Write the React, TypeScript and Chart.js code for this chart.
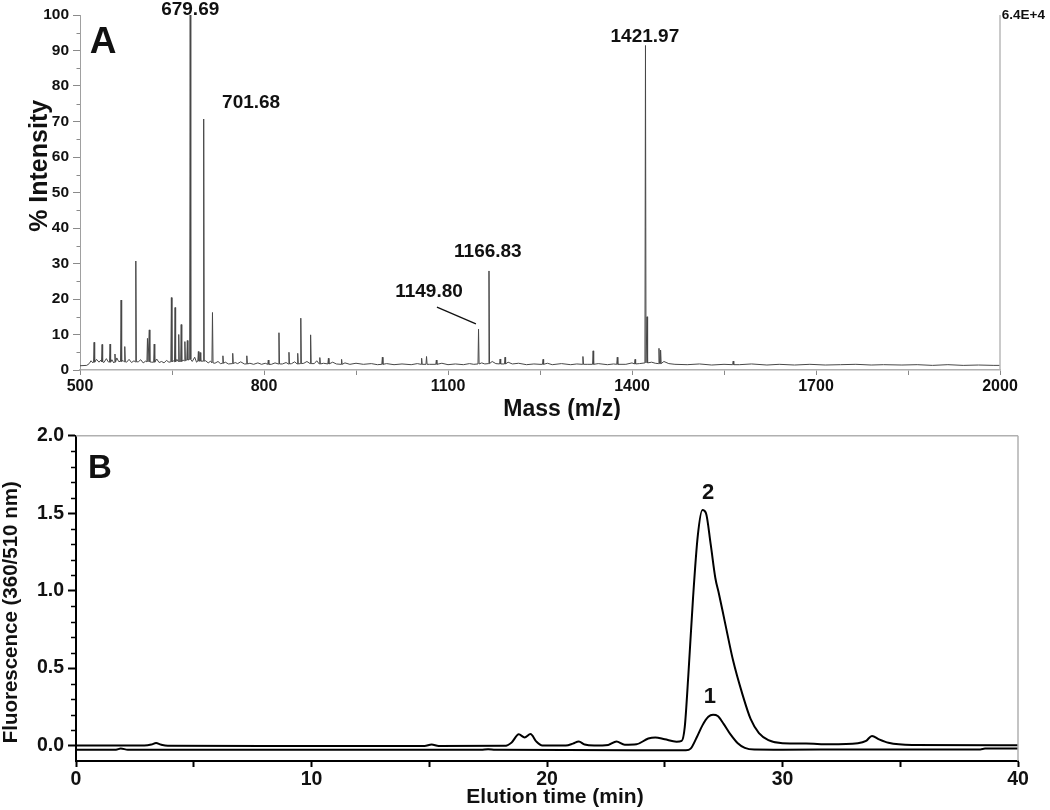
import React, { useEffect, useRef } from 'react';
import { Chart, registerables } from 'chart.js';

Chart.register(...registerables);

const FONT = '"Liberation Sans", Arial, Helvetica, sans-serif';

// ---------------- Panel A : mass spectrum ----------------
const massTicks = [500, 650, 800, 950, 1100, 1250, 1400, 1550, 1700, 1850, 2000];
const massLabeledTicks = [500, 800, 1100, 1400, 1700, 2000];
const intensityTicks = [0, 10, 20, 30, 40, 50, 60, 70, 80, 90, 100];
const intensityMinorTicks = [5, 15, 25, 35, 45, 55, 65, 75, 85, 95];

// baseline noise [m/z, % intensity]
const spectrumBaseline: [number, number][] = [
  [500, 1.2], [511, 1.3], [515, 1.8], [518, 2.6], [521, 2.0], [527, 3.0], [531, 2.2], [534, 2.8],
  [539, 2.1], [543, 3.2], [546, 2.3], [552, 2.9], [555, 2.0], [560, 3.4], [563, 2.4], [570, 2.7],
  [576, 2.2], [580, 3.0], [584, 2.1], [588, 2.6], [595, 2.3], [599, 2.9], [603, 2.0], [607, 2.5],
  [617, 2.2], [625, 3.1], [629, 2.1], [633, 2.4], [637, 2.0], [641, 2.7], [645, 2.2], [652, 2.6],
  [658, 3.0], [668, 2.8], [683, 2.4], [687, 3.6], [690, 2.2], [705, 2.6], [709, 2.0], [713, 2.5],
  [720, 1.9], [725, 2.4], [729, 1.8], [737, 2.2], [742, 1.7], [753, 2.1], [757, 1.8], [762, 2.3],
  [768, 1.7], [777, 1.9], [783, 1.6], [790, 2.0], [796, 1.6], [802, 1.9], [812, 1.6], [818, 2.0],
  [830, 1.7], [836, 2.1], [845, 1.8], [850, 2.3], [865, 1.9], [870, 2.4], [882, 1.8], [886, 2.6],
  [897, 1.9], [912, 2.2], [918, 1.7], [932, 2.0], [940, 1.6], [950, 1.9], [962, 1.6], [975, 1.8],
  [985, 1.5], [1000, 1.8], [1012, 1.5], [1025, 1.7], [1040, 1.5], [1050, 1.8], [1070, 1.6], [1090, 1.9],
  [1100, 1.5], [1112, 1.7], [1125, 1.5], [1135, 1.8], [1142, 1.6], [1155, 2.0], [1160, 1.7], [1172, 2.4],
  [1178, 1.8], [1198, 2.2], [1205, 1.7], [1215, 1.9], [1228, 1.5], [1240, 1.7], [1250, 1.6], [1262, 1.9],
  [1270, 1.5], [1285, 1.8], [1300, 1.5], [1310, 1.7], [1328, 1.6], [1345, 1.8], [1360, 1.5], [1370, 1.7],
  [1390, 1.6], [1400, 2.0], [1412, 1.8], [1432, 2.2], [1438, 1.9], [1452, 2.4], [1460, 1.8], [1470, 1.6],
  [1490, 1.5], [1510, 1.7], [1530, 1.4], [1550, 1.6], [1575, 1.5], [1595, 1.7], [1620, 1.4], [1640, 1.6],
  [1665, 1.4], [1690, 1.6], [1715, 1.4], [1740, 1.5], [1765, 1.6], [1790, 1.4], [1810, 1.5], [1840, 1.4],
  [1865, 1.5], [1890, 1.3], [1915, 1.5], [1940, 1.3], [1965, 1.4], [1990, 1.3], [2000, 1.3],
];

// peaks [m/z, apex % intensity, foot % intensity]
const spectrumPeaks: [number, number, number][] = [
  [523, 7.8, 2.2], [536, 7.2, 2.3], [549, 7.3, 2.2], [557, 4.5, 2.2], [567, 19.7, 2.4], [573, 6.6, 2.3],
  [591, 30.7, 2.3], [610, 8.9, 2.3], [613, 11.3, 2.3], [621, 7.3, 2.2], [649, 20.4, 2.3], [655, 17.6, 2.3],
  [661, 10.0, 2.4], [665, 12.8, 2.4], [671, 8.0, 2.6], [675, 8.3, 2.8], [679.69, 100, 3.0], [693, 5.2, 2.5],
  [696, 4.9, 2.5], [701.68, 70.7, 2.5], [716, 16.2, 2.0], [733, 4.0, 1.9], [749, 4.7, 1.8], [772, 4.0, 1.7],
  [807, 2.8, 1.6], [824.4, 10.5, 1.7], [840.7, 5.0, 1.7], [855, 4.7, 1.7], [860, 14.6, 1.8], [876, 9.9, 1.8],
  [891, 3.5, 1.7], [905, 3.3, 1.7], [926.5, 3.0, 1.6], [993, 3.6, 1.6], [1057, 3.3, 1.6], [1065, 3.8, 1.6],
  [1081, 2.8, 1.6], [1149.8, 11.5, 1.7], [1166.83, 27.9, 1.8], [1185, 3.1, 1.7], [1193, 3.6, 1.7],
  [1255, 3.0, 1.6], [1320, 3.8, 1.6], [1336.6, 5.4, 1.6], [1376, 3.6, 1.6], [1405, 3.0, 1.7],
  [1421.97, 91.4, 2.0], [1424.5, 15.0, 2.0], [1444, 6.1, 1.8], [1446.6, 5.6, 1.8], [1565, 2.5, 1.5],
];

const massTexts = [
  { text: '679.69', x: 679.69, y: 100, size: 19, align: 'center' },
  { text: '701.68', x: 779, y: 73.8, size: 19, align: 'center' },
  { text: '1149.80', x: 1069, y: 20.6, size: 19, align: 'center' },
  { text: '1166.83', x: 1165, y: 31.9, size: 19, align: 'center' },
  { text: '1421.97', x: 1421, y: 92.5, size: 19, align: 'center' },
  { text: '6.4E+4', x: 2003, y: 98.9, size: 13.5, align: 'left' },
  { text: 'A', x: 516, y: 89.3, size: 37, align: 'left' },
  { text: '% Intensity', x: 434.8, y: 57.5, size: 25, align: 'center', baseline: 'middle', rotate: -Math.PI / 2 },
  { text: 'Mass (m/z)', x: 1286, y: -11.3, size: 23, align: 'center', baseline: 'middle' },
];
const massLines = [{ x1: 1082, y1: 17.7, x2: 1145.5, y2: 13 }];

// ---------------- Panel B : chromatogram ----------------
const timeTicks = [0, 5, 10, 15, 20, 25, 30, 35, 40];
const timeLabeledTicks = [0, 10, 20, 30, 40];
const fluorTicks = [0, 0.5, 1.0, 1.5, 2.0];
const fluorMinorTicks = [0.1, 0.2, 0.3, 0.4, 0.6, 0.7, 0.8, 0.9, 1.1, 1.2, 1.3, 1.4, 1.6, 1.7, 1.8, 1.9];

// [time (min), fluorescence]
const trace1: [number, number][] = [
  [0, -0.027], [1.7, -0.027], [1.9, -0.02], [2.2, -0.027], [10, -0.028], [17.2, -0.028], [17.5, -0.024],
  [17.8, -0.028], [25.9, -0.03], [26.1, -0.02], [26.35, 0.05], [26.6, 0.13], [26.85, 0.185], [27.05, 0.198],
  [27.25, 0.19], [27.5, 0.14], [27.8, 0.07], [28.1, 0.015], [28.4, -0.015], [28.8, -0.026], [30, -0.027],
  [33, -0.026], [38.4, -0.025], [38.6, -0.02], [40, -0.02],
];
const trace2: [number, number][] = [
  [0, 0.0], [2.9, 0.0], [3.2, 0.006], [3.4, 0.016], [3.6, 0.006], [3.9, -0.002], [8, -0.003], [14.8, -0.003],
  [15.1, 0.006], [15.4, -0.003], [18.2, -0.002], [18.5, 0.02], [18.8, 0.072], [19.05, 0.052], [19.3, 0.074],
  [19.55, 0.025], [19.8, 0.0], [20.8, 0.0], [21.1, 0.012], [21.35, 0.026], [21.6, 0.006], [22.0, 0.0],
  [22.6, 0.004], [22.95, 0.026], [23.3, 0.005], [23.8, 0.008], [24.3, 0.045], [24.6, 0.052], [25.0, 0.04],
  [25.5, 0.025], [25.72, 0.03], [25.85, 0.12], [26.0, 0.45], [26.2, 0.95], [26.4, 1.35], [26.6, 1.52],
  [26.75, 1.5], [26.95, 1.3], [27.15, 1.08], [27.3, 0.98], [27.55, 0.8], [27.9, 0.55], [28.3, 0.33],
  [28.65, 0.17], [29.0, 0.08], [29.4, 0.035], [30.0, 0.015], [31.0, 0.013], [32.0, 0.008], [33.2, 0.015],
  [33.55, 0.03], [33.8, 0.062], [34.1, 0.04], [34.5, 0.018], [35.5, 0.004], [40, 0.002],
];

const chromTexts = [
  { text: 'B', x: 0.51, y: 1.73, size: 33, align: 'left' },
  { text: '2', x: 26.84, y: 1.59, size: 22, align: 'center' },
  { text: '1', x: 26.92, y: 0.276, size: 22, align: 'center' },
  { text: 'Fluorescence (360/510 nm)', x: -2.76, y: 0.86, size: 20.5, align: 'center', baseline: 'middle', rotate: -Math.PI / 2 },
  { text: 'Elution time (min)', x: 20.34, y: -0.333, size: 21, align: 'center', baseline: 'middle' },
];

// ---------------- helpers ----------------
type TextItem = { text: string; x: number; y: number; size: number; align?: string; baseline?: string; rotate?: number };
type LineItem = { x1: number; y1: number; x2: number; y2: number };

function makeOverlay(cfg: {
  texts: TextItem[];
  lines: LineItem[];
  minor: number[];
  minorLen: number;
  minorColor: string;
  minorWidth: number;
  frame: ('top' | 'right')[];
  frameColor: string;
  frameWidth: number;
}) {
  return {
    id: 'overlay',
    afterDraw(chart: any) {
      const ctx = chart.ctx as CanvasRenderingContext2D;
      const xs = chart.scales.x;
      const ys = chart.scales.y;
      const area = chart.chartArea;
      ctx.save();
      ctx.strokeStyle = cfg.frameColor;
      ctx.lineWidth = cfg.frameWidth;
      for (const side of cfg.frame) {
        ctx.beginPath();
        if (side === 'top') {
          ctx.moveTo(area.left, area.top);
          ctx.lineTo(area.right, area.top);
        } else {
          ctx.moveTo(area.right, area.top);
          ctx.lineTo(area.right, area.bottom);
        }
        ctx.stroke();
      }
      ctx.strokeStyle = cfg.minorColor;
      ctx.lineWidth = cfg.minorWidth;
      for (const v of cfg.minor) {
        const py = Math.round(ys.getPixelForValue(v)) + 0.5;
        ctx.beginPath();
        ctx.moveTo(ys.right, py);
        ctx.lineTo(ys.right - cfg.minorLen, py);
        ctx.stroke();
      }
      ctx.strokeStyle = '#111';
      ctx.lineWidth = 1.3;
      for (const l of cfg.lines) {
        ctx.beginPath();
        ctx.moveTo(xs.getPixelForValue(l.x1), ys.getPixelForValue(l.y1));
        ctx.lineTo(xs.getPixelForValue(l.x2), ys.getPixelForValue(l.y2));
        ctx.stroke();
      }
      for (const t of cfg.texts) {
        ctx.save();
        ctx.translate(xs.getPixelForValue(t.x), ys.getPixelForValue(t.y));
        if (t.rotate) ctx.rotate(t.rotate);
        ctx.font = `bold ${t.size}px ${FONT}`;
        ctx.textAlign = (t.align || 'center') as CanvasTextAlign;
        ctx.textBaseline = (t.baseline || 'alphabetic') as CanvasTextBaseline;
        ctx.fillStyle = '#111';
        ctx.fillText(t.text, 0, 0);
        ctx.restore();
      }
      ctx.restore();
    },
  };
}

function buildSpectrum() {
  const pts = spectrumBaseline.map(([x, y]) => ({ x, y }));
  for (const [mz, h, foot] of spectrumPeaks) {
    pts.push({ x: mz - 0.9, y: foot }, { x: mz, y: h }, { x: mz + 0.9, y: foot });
  }
  pts.sort((a, b) => a.x - b.x);
  return pts;
}

function MassChart() {
  const ref = useRef<HTMLCanvasElement>(null);
  useEffect(() => {
    if (!ref.current) return;
    const chart = new Chart(ref.current, {
      type: 'line',
      data: {
        datasets: [
          {
            data: buildSpectrum(),
            borderColor: '#474747',
            borderWidth: 1,
            pointRadius: 0,
            tension: 0,
          },
        ],
      },
      options: {
        animation: false,
        responsive: false,
        layout: { padding: { top: 15, right: 50, left: 0, bottom: 0 } },
        plugins: { legend: { display: false }, tooltip: { enabled: false } },
        scales: {
          x: {
            type: 'linear',
            min: 500,
            max: 2000,
            afterFit: (s: any) => { s.height = 50; },
            afterBuildTicks: (s: any) => { s.ticks = massTicks.map((v) => ({ value: v })); },
            ticks: {
              autoSkip: false,
              maxRotation: 0,
              padding: 2,
              color: '#111',
              font: { family: FONT, size: 16, weight: 'bold' },
              callback: (v: any) => (massLabeledTicks.includes(Number(v)) ? String(v) : ''),
            },
            grid: { drawOnChartArea: false, drawTicks: true, tickLength: 5, tickColor: '#8a8a8a', tickWidth: 1 },
            border: { display: true, color: '#b0b0b0', width: 1.5 },
          },
          y: {
            type: 'linear',
            min: 0,
            max: 100,
            afterFit: (s: any) => { s.width = 80; },
            afterBuildTicks: (s: any) => { s.ticks = intensityTicks.map((v) => ({ value: v })); },
            ticks: {
              autoSkip: false,
              padding: 4,
              color: '#111',
              font: { family: FONT, size: 15.5, weight: 'bold' },
              callback: (v: any) => String(v),
            },
            grid: { drawOnChartArea: false, drawTicks: true, tickLength: 7, tickColor: '#8a8a8a', tickWidth: 1 },
            border: { display: true, color: '#a0a0a0', width: 1 },
          },
        },
      } as any,
      plugins: [
        makeOverlay({
          texts: massTexts as TextItem[],
          lines: massLines,
          minor: intensityMinorTicks,
          minorLen: 3.5,
          minorColor: '#8a8a8a',
          minorWidth: 1,
          frame: ['right'],
          frameColor: '#b8b8b8',
          frameWidth: 1.5,
        }),
      ],
    });
    return () => chart.destroy();
  }, []);
  return <canvas ref={ref} width={1050} height={420} style={{ position: 'absolute', left: 0, top: 0, display: 'block' }} />;
}

function ChromChart() {
  const ref = useRef<HTMLCanvasElement>(null);
  useEffect(() => {
    if (!ref.current) return;
    const chart = new Chart(ref.current, {
      type: 'line',
      data: {
        datasets: [
          {
            label: '2',
            data: trace2.map(([x, y]) => ({ x, y })),
            borderColor: '#000',
            borderWidth: 2,
            pointRadius: 0,
            cubicInterpolationMode: 'monotone',
          },
          {
            label: '1',
            data: trace1.map(([x, y]) => ({ x, y })),
            borderColor: '#000',
            borderWidth: 2,
            pointRadius: 0,
            cubicInterpolationMode: 'monotone',
          },
        ],
      },
      options: {
        animation: false,
        responsive: false,
        layout: { padding: { top: 14, right: 32, left: 0, bottom: 0 } },
        plugins: { legend: { display: false }, tooltip: { enabled: false } },
        scales: {
          x: {
            type: 'linear',
            min: 0,
            max: 40,
            afterFit: (s: any) => { s.height = 49; },
            afterBuildTicks: (s: any) => { s.ticks = timeTicks.map((v) => ({ value: v })); },
            ticks: {
              autoSkip: false,
              maxRotation: 0,
              padding: 1,
              color: '#111',
              font: { family: FONT, size: 19.5, weight: 'bold' },
              callback: (v: any) => (timeLabeledTicks.includes(Number(v)) ? String(v) : ''),
            },
            grid: { drawOnChartArea: false, drawTicks: true, tickLength: 6, tickColor: '#000', tickWidth: 2 },
            border: { display: true, color: '#000', width: 2 },
          },
          y: {
            type: 'linear',
            min: -0.1,
            max: 2.0,
            afterFit: (s: any) => { s.width = 76; },
            afterBuildTicks: (s: any) => { s.ticks = fluorTicks.map((v) => ({ value: v })); },
            ticks: {
              autoSkip: false,
              padding: 4,
              color: '#111',
              font: { family: FONT, size: 19.5, weight: 'bold' },
              callback: (v: any) => Number(v).toFixed(1),
            },
            grid: { drawOnChartArea: false, drawTicks: true, tickLength: 8, tickColor: '#000', tickWidth: 2 },
            border: { display: true, color: '#000', width: 2 },
          },
        },
      } as any,
      plugins: [
        makeOverlay({
          texts: chromTexts as TextItem[],
          lines: [],
          minor: fluorMinorTicks,
          minorLen: 5,
          minorColor: '#000',
          minorWidth: 1.5,
          frame: ['top', 'right'],
          frameColor: '#b0b0b0',
          frameWidth: 1.5,
        }),
      ],
    });
    return () => chart.destroy();
  }, []);
  return <canvas ref={ref} width={1050} height={390} style={{ position: 'absolute', left: 0, top: 420, display: 'block' }} />;
}

export default function App() {
  return (
    <div style={{ position: 'absolute', left: 0, top: 0, width: 1050, height: 810, background: '#fff', overflow: 'hidden' }}>
      <MassChart />
      <ChromChart />
    </div>
  );
}
